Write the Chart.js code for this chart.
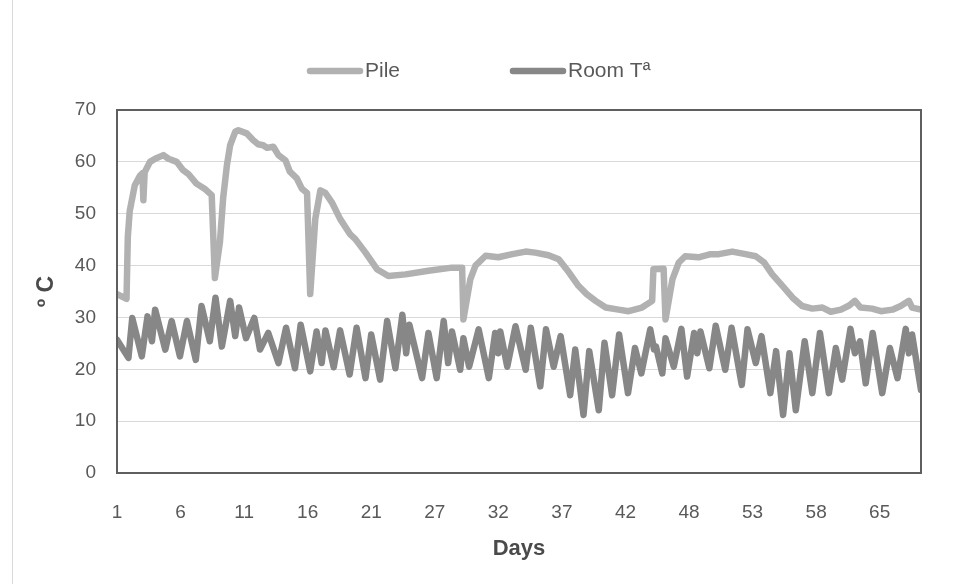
<!DOCTYPE html>
<html>
<head>
<meta charset="utf-8">
<script src="https://cdn.jsdelivr.net/npm/chart.js@4/dist/chart.umd.min.js"></script>
<style>
  html, body { margin: 0; padding: 0; background: #fff; }
  #wrap { position: relative; width: 960px; height: 584px; }
  #wrap::before { content: ''; position: absolute; left: 12px; top: 0; bottom: 0; border-left: 1px solid #d9d9d9; }
  canvas { display: block; }
</style>
</head>
<body>
<div id="wrap"><canvas id="chart" width="960" height="584"></canvas></div>
<script>
// Axis labels: one day label every ten readings
const tickDays = [1, 6, 11, 16, 21, 27, 32, 37, 42, 48, 53, 58, 65];
const readingsPerTick = 10;

// Pile temperature, [reading, ºC]
const pileTemp = [
  [0, 34.5], [1.5, 33.6], [1.7, 45.5], [2.0, 50.5], [2.8, 55.5], [3.6, 57.3], [4.0, 57.8],
  [4.15, 52.6], [4.35, 58.0], [5.2, 60.0], [6.0, 60.6], [7.3, 61.3], [8.1, 60.6], [9.4, 60.0],
  [10.4, 58.4], [11.2, 57.7], [12.5, 55.8], [13.9, 54.7], [14.9, 53.6], [15.4, 37.6],
  [16.2, 44.6], [16.7, 53.0], [17.3, 59.4], [17.8, 63.2], [18.6, 65.8], [19.1, 66.1],
  [20.4, 65.5], [21.4, 64.2], [22.2, 63.4], [23.0, 63.2], [23.6, 62.7], [24.6, 62.9],
  [25.4, 61.3], [26.5, 60.3], [27.2, 58.1], [28.3, 56.8], [29.1, 54.8], [29.9, 54.0],
  [30.4, 34.5], [31.2, 49.0], [32.0, 54.5], [32.8, 54.0], [33.8, 52.2], [35.1, 49.0],
  [36.7, 46.0], [37.5, 45.1], [39.1, 42.5], [40.9, 39.3], [42.7, 38.0], [45.4, 38.3],
  [49.0, 39.0], [52.7, 39.6], [54.3, 39.6], [54.5, 29.6], [55.6, 37.4], [56.4, 40.0],
  [58.0, 41.9], [60.0, 41.6], [62.2, 42.2], [64.3, 42.7], [65.8, 42.5], [67.9, 42.0],
  [69.5, 41.2], [71.1, 38.7], [72.6, 36.1], [73.9, 34.5], [75.3, 33.2], [76.9, 31.9],
  [78.9, 31.5], [80.5, 31.2], [82.6, 31.9], [84.2, 33.2], [84.4, 39.3], [86.0, 39.4],
  [86.3, 29.6], [87.4, 37.4], [88.4, 40.6], [89.4, 41.8], [91.5, 41.6], [93.4, 42.2],
  [94.7, 42.2], [96.8, 42.7], [98.9, 42.2], [100.5, 41.8], [101.8, 40.6], [103.1, 38.3],
  [104.7, 36.1], [106.3, 33.8], [107.8, 32.2], [109.4, 31.7], [111.0, 31.9], [112.3, 31.1],
  [113.9, 31.5], [115.2, 32.3], [116.1, 33.2], [117.0, 31.9], [118.8, 31.7], [120.2, 31.2],
  [122.0, 31.5], [123.3, 32.2], [124.6, 33.2], [125.1, 31.9], [126.5, 31.5]
];

// Room temperature, [reading, ºC]
const roomTemp = [
  [0, 25.7], [1.8, 22.2], [2.4, 29.9], [3.9, 22.5], [4.8, 30.2], [5.5, 25.4], [6.0, 31.5],
  [7.6, 23.8], [8.6, 29.3], [9.9, 22.5], [11.0, 29.3], [12.4, 21.8], [13.3, 32.2], [14.6, 25.4],
  [15.5, 33.8], [16.5, 24.4], [17.8, 33.2], [18.6, 26.4], [19.2, 31.9], [20.3, 26.0],
  [21.6, 29.9], [22.5, 23.8], [23.8, 27.0], [25.4, 21.2], [26.6, 28.0], [28.0, 20.2],
  [28.9, 28.6], [30.4, 19.6], [31.4, 27.3], [32.2, 21.2], [32.8, 27.5], [34.1, 20.4],
  [35.1, 27.5], [36.6, 19.0], [37.7, 28.0], [39.1, 18.3], [40.0, 26.7], [41.4, 18.0],
  [42.5, 29.3], [43.8, 20.2], [44.9, 30.5], [45.5, 23.1], [46.0, 28.6], [48.0, 18.3],
  [49.0, 27.0], [50.3, 18.3], [51.4, 29.3], [52.1, 21.2], [52.7, 27.3], [54.0, 19.9],
  [54.5, 26.0], [55.4, 20.5], [56.9, 27.7], [58.5, 18.3], [59.5, 27.0], [60.0, 23.1],
  [60.3, 27.3], [61.4, 20.5], [62.7, 28.3], [64.3, 19.9], [65.1, 28.0], [66.6, 16.7],
  [67.5, 27.7], [68.7, 20.5], [69.8, 26.4], [71.3, 15.0], [72.1, 23.8], [73.4, 11.2],
  [74.3, 23.5], [75.8, 12.1], [76.7, 25.1], [77.9, 15.0], [79.0, 26.7], [80.4, 15.4],
  [81.5, 24.1], [82.5, 19.2], [83.9, 27.7], [84.5, 23.8], [84.8, 24.4], [85.8, 19.2],
  [86.3, 26.0], [87.6, 20.5], [88.8, 27.8], [89.7, 18.6], [90.8, 27.0], [91.3, 23.1],
  [91.8, 27.3], [93.2, 20.2], [94.2, 28.4], [95.7, 19.9], [96.7, 28.0], [98.3, 17.0],
  [99.2, 27.7], [100.5, 21.2], [101.4, 26.4], [102.8, 15.4], [103.7, 23.5], [104.8, 11.2],
  [105.8, 23.1], [106.8, 12.1], [108.2, 25.4], [109.4, 15.4], [110.6, 27.0], [112.0, 15.4],
  [113.1, 24.1], [114.1, 18.0], [115.4, 27.8], [116.1, 23.1], [116.9, 25.4], [117.8, 17.3],
  [118.9, 27.0], [120.4, 15.4], [121.6, 24.1], [122.8, 18.3], [124.1, 27.8], [124.6, 23.1],
  [125.1, 26.7], [126.5, 16.0]
];

const toPoints = rows => rows.map(([x, y]) => ({ x, y }));
const lastReading = Math.max(pileTemp[pileTemp.length - 1][0], roomTemp[roomTemp.length - 1][0]);

// Legend drawn as thick line samples followed by the series name
const lineLegend = {
  id: 'lineLegend',
  afterDraw(chart, args, opts) {
    const { ctx } = chart;
    ctx.save();
    ctx.font = opts.font;
    ctx.textBaseline = 'middle';
    ctx.textAlign = 'left';
    chart.data.datasets.forEach((ds, i) => {
      const x = opts.starts[i];
      ctx.strokeStyle = ds.borderColor;
      ctx.lineWidth = ds.borderWidth;
      ctx.lineCap = 'round';
      ctx.beginPath();
      ctx.moveTo(x, opts.y);
      ctx.lineTo(x + opts.sampleWidth, opts.y);
      ctx.stroke();
      ctx.fillStyle = opts.color;
      ctx.fillText(ds.label, x + opts.sampleWidth + opts.gap, opts.y);
    });
    ctx.restore();
  }
};

// Dark frame around the plot area
const plotFrame = {
  id: 'plotFrame',
  afterDatasetsDraw(chart, args, opts) {
    const { ctx, chartArea: a } = chart;
    ctx.save();
    ctx.strokeStyle = opts.color;
    ctx.lineWidth = opts.width;
    ctx.strokeRect(a.left, a.top, a.right - a.left, a.bottom - a.top);
    ctx.restore();
  }
};

const fontFamily = "'Liberation Sans', Arial, sans-serif";
const tickFont = { family: fontFamily, size: 19 };

new Chart(document.getElementById('chart'), {
  type: 'line',
  data: {
    datasets: [
      {
        label: 'Pile',
        data: toPoints(pileTemp),
        borderColor: '#b1b1b1',
        borderWidth: 6.5,
        borderCapStyle: 'round',
        borderJoinStyle: 'round',
        pointRadius: 0,
        tension: 0,
        fill: false
      },
      {
        label: 'Room Tª',
        data: toPoints(roomTemp),
        borderColor: '#878787',
        borderWidth: 6.5,
        borderCapStyle: 'round',
        borderJoinStyle: 'round',
        pointRadius: 0,
        tension: 0,
        fill: false
      }
    ]
  },
  options: {
    responsive: false,
    animation: false,
    events: [],
    layout: { padding: { top: 110, right: 39, bottom: 0, left: 0 } },
    scales: {
      x: {
        type: 'linear',
        min: 0,
        max: lastReading,
        afterFit: s => { s.height = 111; },
        grid: { display: false },
        border: { display: false },
        ticks: {
          stepSize: readingsPerTick,
          includeBounds: false,
          maxRotation: 0,
          autoSkip: false,
          padding: 20,
          color: '#595959',
          font: tickFont,
          callback: v => {
            const k = v / readingsPerTick;
            return Number.isInteger(k) && k < tickDays.length ? String(tickDays[k]) : '';
          }
        },
        title: {
          display: true,
          text: 'Days',
          color: '#4a4a4a',
          font: { family: fontFamily, size: 22, weight: 'bold' },
          padding: { top: 0, bottom: 22 }
        }
      },
      y: {
        min: 0,
        max: 70,
        afterFit: s => { s.width = 117; },
        grid: { color: '#d9d9d9', lineWidth: 1, drawTicks: false },
        border: { display: false },
        ticks: {
          stepSize: 10,
          padding: 21,
          color: '#595959',
          font: tickFont
        },
        title: {
          display: true,
          text: 'º C',
          color: '#4a4a4a',
          font: { family: fontFamily, size: 23, weight: 'bold' },
          padding: { top: 33, bottom: 0 }
        }
      }
    },
    plugins: {
      legend: { display: false },
      tooltip: { enabled: false },
      lineLegend: {
        starts: [310, 513],
        sampleWidth: 50,
        gap: 5,
        y: 71,
        color: '#595959',
        font: "21px " + fontFamily
      },
      plotFrame: { color: '#5f5f5f', width: 2 }
    }
  },
  plugins: [lineLegend, plotFrame]
});
</script>
</body>
</html>
